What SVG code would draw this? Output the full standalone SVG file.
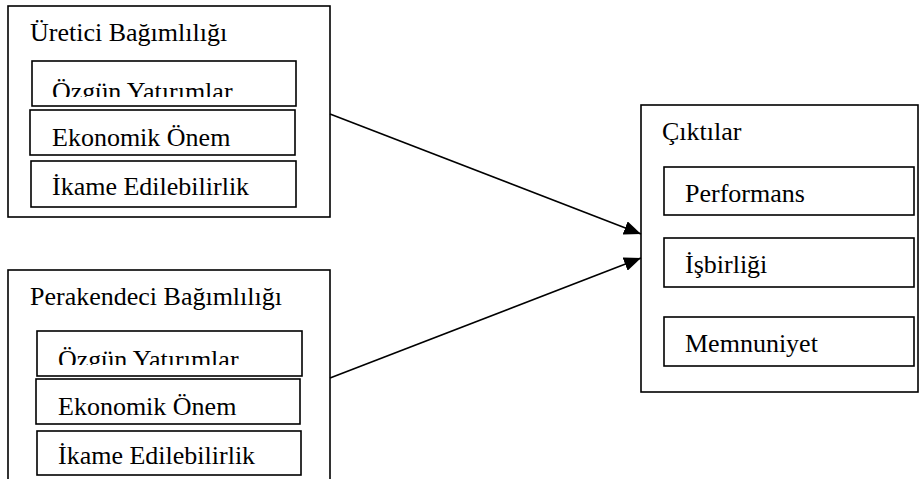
<svg xmlns="http://www.w3.org/2000/svg" width="919" height="479" viewBox="0 0 919 479">
<style>
.box{fill:#fff;stroke:#000;stroke-width:1.6}
.t{font-family:"Liberation Serif","Times New Roman",serif;font-size:26px;fill:#000}
.c{stroke:#000;stroke-width:1.6;fill:none}
</style>
<defs>
<marker id="ah" markerUnits="userSpaceOnUse" markerWidth="18" markerHeight="14" refX="17" refY="7" orient="auto">
<path d="M0,0 L17,7 L0,14 Z" fill="#000"/>
</marker>
<clipPath id="clip1"><rect x="32" y="60" width="264" height="37"/></clipPath>
<clipPath id="clip2"><rect x="37" y="330" width="265" height="35"/></clipPath>
</defs>
<g id="uretici">
<rect class="box" x="8" y="6" width="322" height="211"/>
<text class="t" x="30" y="41">Üretici Bağımlılığı</text>
<g id="uretici-ozgun">
<rect class="box" x="32" y="61" width="264" height="45"/>
<text class="t" x="52" y="100" clip-path="url(#clip1)">Özgün Yatırımlar</text>
</g>
<g id="uretici-ekonomik">
<rect class="box" x="30" y="110" width="265" height="45"/>
<text class="t" x="52" y="146">Ekonomik Önem</text>
</g>
<g id="uretici-ikame">
<rect class="box" x="31" y="161" width="265" height="46"/>
<text class="t" x="52" y="195">İkame Edilebilirlik</text>
</g>
</g>
<g id="perakendeci">
<rect class="box" x="8" y="270" width="322" height="220"/>
<text class="t" x="30" y="305">Perakendeci Bağımlılığı</text>
<g id="perakendeci-ozgun">
<rect class="box" x="37" y="331" width="265" height="45"/>
<text class="t" x="58" y="368" clip-path="url(#clip2)">Özgün Yatırımlar</text>
</g>
<g id="perakendeci-ekonomik">
<rect class="box" x="36" y="379" width="264" height="45"/>
<text class="t" x="58" y="415">Ekonomik Önem</text>
</g>
<g id="perakendeci-ikame">
<rect class="box" x="37" y="431" width="264" height="44"/>
<text class="t" x="58" y="464">İkame Edilebilirlik</text>
</g>
</g>
<g id="ciktilar">
<rect class="box" x="641" y="105" width="277" height="287"/>
<text class="t" x="662" y="140">Çıktılar</text>
<g id="performans">
<rect class="box" x="664" y="167" width="250" height="48"/>
<text class="t" x="685" y="202">Performans</text>
</g>
<g id="isbirligi">
<rect class="box" x="664" y="238" width="250" height="49"/>
<text class="t" x="685" y="273">İşbirliği</text>
</g>
<g id="memnuniyet">
<rect class="box" x="664" y="317" width="250" height="49"/>
<text class="t" x="685" y="352">Memnuniyet</text>
</g>
</g>
<g id="connectors">
<line class="c" x1="330" y1="114" x2="641" y2="234" marker-end="url(#ah)"/>
<line class="c" x1="330" y1="378" x2="641" y2="258" marker-end="url(#ah)"/>
</g>
</svg>
